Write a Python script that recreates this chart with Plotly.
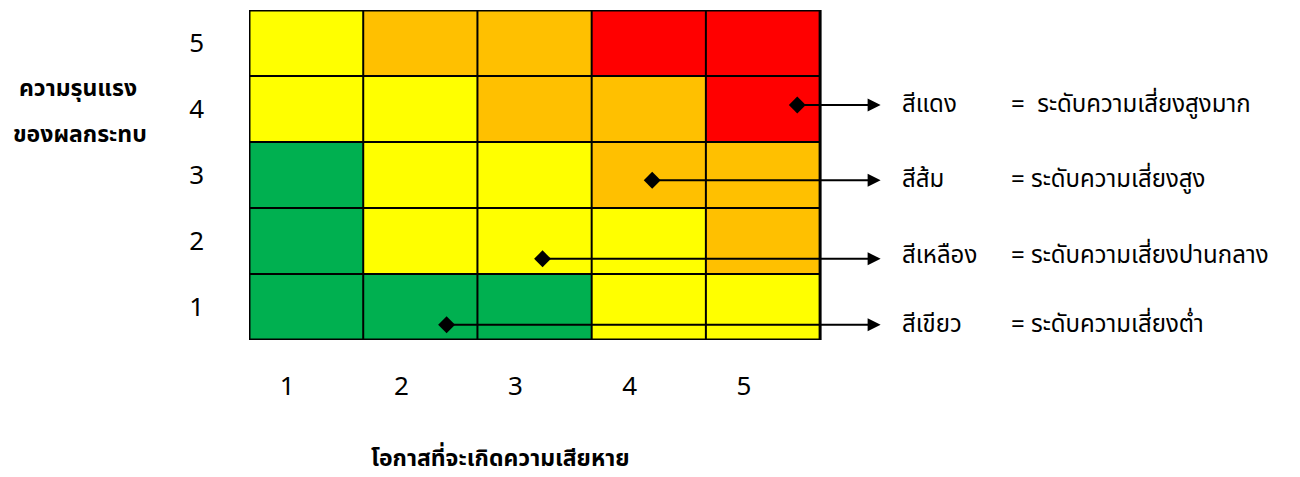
import plotly.graph_objects as go

likelihood = [1, 2, 3, 4, 5]
severity = [1, 2, 3, 4, 5]
tick_labels = ["1", "2", "3", "4", "5"]

# risk level per cell: 0 = green, 1 = yellow, 2 = orange, 3 = red (rows = severity 1..5)
risk_levels = [
    [0, 0, 0, 1, 1],
    [0, 1, 1, 1, 2],
    [0, 1, 1, 2, 2],
    [1, 1, 2, 2, 3],
    [1, 2, 2, 3, 3],
]
level_colors = ["#00B050", "#FFFF00", "#FFC000", "#FF0000"]

# legend pointers (from red to green)
pointer_x = [5.30, 4.03, 3.07, 2.23]
pointer_y = [4.06, 2.92, 1.73, 0.73]
arrow_end_x = 6.03
legend_names = ["สีแดง", "สีส้ม", "สีเหลือง", "สีเขียว"]
legend_desc = ["=  ระดับความเสี่ยงสูงมาก", "= ระดับความเสี่ยงสูง",
               "= ระดับความเสี่ยงปานกลาง", "= ระดับความเสี่ยงต่ำ"]
legend_y = [4.06, 2.92, 1.78, 0.73]

x_title = "โอกาสที่จะเกิดความเสียหาย"
y_title = ["ความรุนแรง", "ของผลกระทบ"]

FONT = "Noto Sans Thai, Tahoma, Leelawadee UI, Noto Sans, sans-serif"

W, H = 1300, 477
ml, mr, mt, mb = 249, 23, 10, 137
pw, ph = W - ml - mr, H - mt - mb


def px_to_paper(xp, yp):
    return (xp - ml) / pw, (H - mb - yp) / ph


n = len(level_colors)
colorscale = []
for i, c in enumerate(level_colors):
    colorscale.append([i / n, c])
    colorscale.append([(i + 1) / n, c])

fig = go.Figure()
fig.add_trace(go.Heatmap(
    x=likelihood, y=severity, z=risk_levels,
    zmin=0, zmax=n, colorscale=colorscale, showscale=False, hoverinfo="skip",
))

# grid lines
x0, x1 = likelihood[0] - 0.5, likelihood[-1] + 0.5
y0, y1 = severity[0] - 0.5, severity[-1] + 0.5
for k in range(len(likelihood) + 1):
    xv = x0 + k
    w = 3 if k in (0, len(likelihood)) else 2
    fig.add_shape(type="line", x0=xv, x1=xv, y0=y0, y1=y1, xref="x", yref="y",
                  line=dict(color="black", width=w))
for k in range(len(severity) + 1):
    yv = y0 + k
    w = 3 if k in (0, len(severity)) else 2
    fig.add_shape(type="line", x0=x0, x1=x1, y0=yv, y1=yv, xref="x", yref="y",
                  line=dict(color="black", width=w))

# pointers
for px, py in zip(pointer_x, pointer_y):
    fig.add_annotation(x=arrow_end_x, y=py, ax=px, ay=py, xref="x", yref="y",
                       axref="x", ayref="y", text="", showarrow=True,
                       arrowhead=2, arrowsize=1.3, arrowwidth=2, arrowcolor="black")
fig.add_trace(go.Scatter(x=pointer_x, y=pointer_y, mode="markers",
                         marker=dict(symbol="diamond", size=13, color="black"),
                         hoverinfo="skip", showlegend=False))

for name, desc, ly in zip(legend_names, legend_desc, legend_y):
    fig.add_annotation(x=6.2, y=ly, xref="x", yref="y", text=name, showarrow=False,
                       xanchor="left", font=dict(size=24, color="black", family=FONT))
    fig.add_annotation(x=7.15, y=ly, xref="x", yref="y", text=desc, showarrow=False,
                       xanchor="left", font=dict(size=24, color="black", family=FONT))

for txt, (cx, cy) in zip(y_title, [(78, 89), (80, 135)]):
    ax_, ay_ = px_to_paper(cx, cy)
    fig.add_annotation(x=ax_, y=ay_, xref="paper", yref="paper", text="<b>" + txt + "</b>",
                       showarrow=False, xanchor="center", yanchor="middle",
                       font=dict(size=23, color="black", family=FONT))
tx, ty = px_to_paper(500, 459)
fig.add_annotation(x=tx, y=ty, xref="paper", yref="paper", text="<b>" + x_title + "</b>",
                   showarrow=False, xanchor="center", yanchor="middle",
                   font=dict(size=23, color="black", family=FONT))

fig.update_layout(
    width=W, height=H,
    margin=dict(l=ml, r=mr, t=mt, b=mb),
    paper_bgcolor="white", plot_bgcolor="white",
    showlegend=False,
    xaxis=dict(range=[0.5, 9.5], tickvals=likelihood, ticktext=tick_labels,
               showgrid=False, zeroline=False, showline=False, ticks="",
               tickfont=dict(size=26, color="black", family=FONT),
               ticklabelstandoff=28, ticklabelshift=-19),
    yaxis=dict(range=[0.5, 5.5], tickvals=severity, ticktext=tick_labels,
               showgrid=False, zeroline=False, showline=False, ticks="",
               tickfont=dict(size=26, color="black", family=FONT),
               ticklabelstandoff=44),
)

fig.write_html("out.html", config={"displayModeBar": False},
               post_script="document.body.style.margin='0';document.body.style.overflow='hidden';")
